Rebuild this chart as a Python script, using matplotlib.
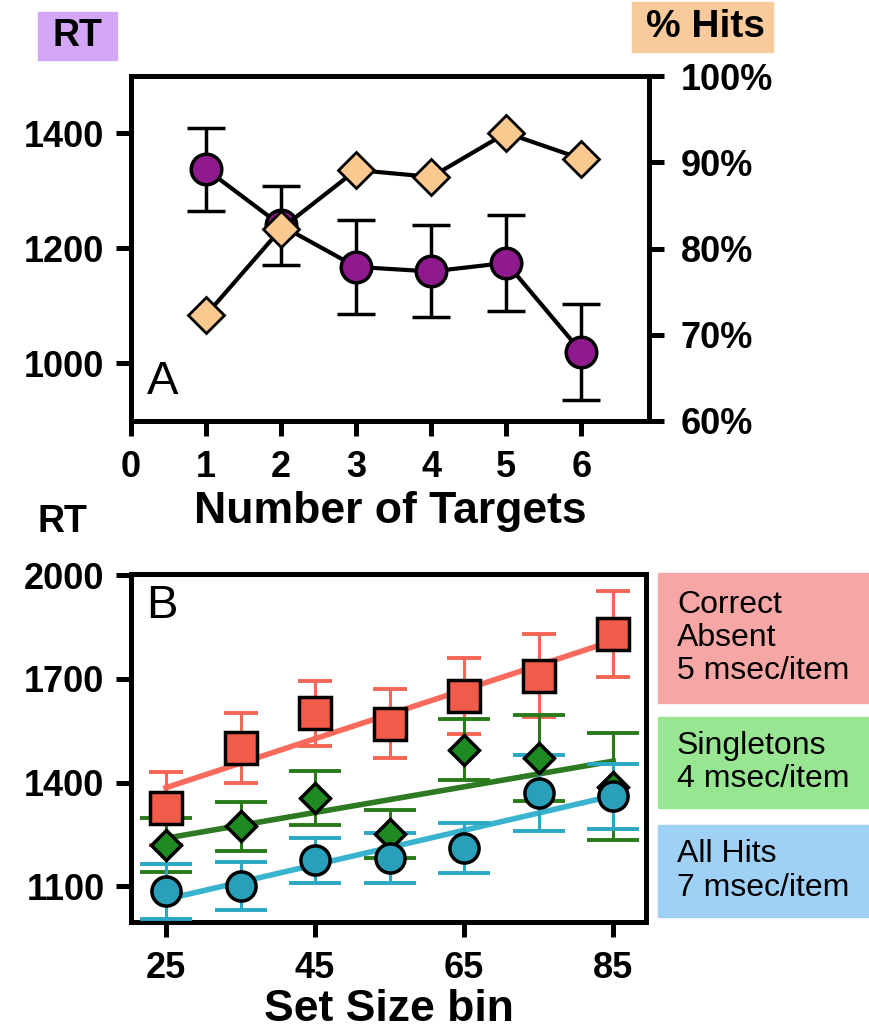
import matplotlib
matplotlib.use("Agg")
import matplotlib.pyplot as plt
from matplotlib.patches import Rectangle
import numpy as np

plt.rcParams['font.family'] = ['Liberation Sans', 'DejaVu Sans']

# Panel A: number of targets
n_targets = [1, 2, 3, 4, 5, 6]
rt_mean = [1338, 1240, 1168, 1160, 1175, 1020]
rt_err = [72, 68, 82, 80, 84, 83]
hits_pct = [72.3, 82.3, 89.1, 88.3, 93.4, 90.4]

# Panel B: set size bins
set_size = [25, 35, 45, 55, 65, 75, 85]
absent_rt = [1325, 1500, 1600, 1570, 1650, 1710, 1830]
absent_err = [105, 100, 95, 100, 110, 120, 125]
single_rt = [1220, 1273, 1355, 1250, 1495, 1472, 1388]
single_err = [78, 72, 78, 70, 88, 125, 155]
hits_rt = [1085, 1100, 1175, 1182, 1210, 1370, 1360]
hits_err = [80, 70, 65, 72, 73, 110, 95]

legend_labels = ["Correct\nAbsent\n5 msec/item",
                 "Singletons\n4 msec/item",
                 "All Hits\n7 msec/item"]

W, H = 869, 1029
fig = plt.figure(figsize=(W / 100, H / 100), dpi=100)


def fx(px):
    return px / W


def fy(py):
    return 1 - py / H


spine_w = 3.6
tick_fs = 26
label_fs = 32

# ---------- Panel A ----------
axA = fig.add_axes([fx(131), fy(421), fx(649) - fx(131), fy(76) - fy(421)])
axA.errorbar(n_targets, rt_mean, yerr=rt_err, color='black', lw=3,
             elinewidth=2.5, capsize=14, capthick=2.5, zorder=2,
             marker='o', ms=22, mfc='#8e1a8e', mec='black', mew=2.5)
axA.set_xlim(0, 6.9)
axA.set_ylim(900, 1500)
axA.set_xticks(range(7))
axA.set_yticks([1000, 1200, 1400])
axA.tick_params(direction='out', length=11, width=spine_w, labelsize=tick_fs, pad=8)
axA.tick_params(axis='x', pad=10)
for s in axA.spines.values():
    s.set_linewidth(spine_w)
for lab in axA.get_xticklabels() + axA.get_yticklabels():
    lab.set_fontweight('bold')
axA.set_xlabel("Number of Targets", fontsize=label_fs, fontweight='bold', labelpad=4)
axA.text(0.03, 0.05, "A", transform=axA.transAxes, fontsize=34, ha='left', va='bottom')

axA2 = axA.twinx()
axA2.plot(n_targets, hits_pct, color='black', lw=3, marker='D', ms=18,
          mfc='#f9c98f', mec='black', mew=2)
axA2.set_ylim(60, 100)
axA2.set_yticks([60, 70, 80, 90, 100])
axA2.set_yticklabels([f"{v}%" for v in [60, 70, 80, 90, 100]])
axA2.tick_params(direction='out', length=11, width=spine_w, labelsize=tick_fs, pad=12)
for s in axA2.spines.values():
    s.set_linewidth(spine_w)
for lab in axA2.get_yticklabels():
    lab.set_fontweight('bold')

# header boxes
fig.patches.append(Rectangle((fx(38), fy(60)), fx(117) - fx(38), fy(12) - fy(60),
                             transform=fig.transFigure, color='#d4a6f6', zorder=0))
fig.text(fx(77), fy(36), "RT", fontsize=27, fontweight='bold', ha='center', va='center')
fig.patches.append(Rectangle((fx(632), fy(52)), fx(773) - fx(632), fy(2) - fy(52),
                             transform=fig.transFigure, color='#f9ca9c', zorder=0))
fig.text(fx(705), fy(27), "% Hits", fontsize=28, fontweight='bold', ha='center', va='center')

# ---------- Panel B ----------
axB = fig.add_axes([fx(131), fy(922), fx(646) - fx(131), fy(574) - fy(922)])
series = [
    (absent_rt, absent_err, 's', 23, '#f25a4a', '#f46656', '#f86a5c', 12),
    (single_rt, single_err, 'D', 15, '#1f8a22', '#2a7a1a', '#2d7a23', 19),
    (hits_rt, hits_err, 'o', 21, '#2a9fba', '#2aa8c4', '#3ab3cf', 19),
]
x = np.array(set_size)
for vals, err, mk, ms, fill, ecol, lcol, cap in series:
    slope, icpt = np.polyfit(x, vals, 1)
    axB.plot([25, 85], [icpt + slope * 25, icpt + slope * 85], color=lcol, lw=4, zorder=2)
    axB.errorbar(x, vals, yerr=err, fmt='none', ecolor=ecol, elinewidth=2.2,
                 capsize=cap, capthick=2.8, zorder=3)
    axB.plot(x, vals, ls='none', marker=mk, ms=ms, mfc=fill, mec='black', mew=2.5, zorder=4)

axB.set_xlim(20.3, 89.4)
axB.set_ylim(996, 2004)
axB.set_xticks([25, 45, 65, 85])
axB.set_yticks([1100, 1400, 1700, 2000])
axB.tick_params(direction='out', length=11, width=spine_w, labelsize=tick_fs, pad=8)
axB.tick_params(axis='x', pad=10)
for s in axB.spines.values():
    s.set_linewidth(spine_w)
for lab in axB.get_xticklabels() + axB.get_yticklabels():
    lab.set_fontweight('bold')
axB.set_xlabel("Set Size bin", fontsize=label_fs, fontweight='bold', labelpad=2)
axB.text(0.03, 0.97, "B", transform=axB.transAxes, fontsize=34, ha='left', va='top')
fig.text(fx(62), fy(522), "RT", fontsize=27, fontweight='bold', ha='center', va='center')

# legend boxes on the right
boxes = [(573, 703, '#f7a6a6'), (717, 808, '#98e592'), (825, 917, '#9fd0f5')]
for (top, bot, col), txt in zip(boxes, legend_labels):
    fig.patches.append(Rectangle((fx(658), fy(bot)), 1 - fx(658), fy(top) - fy(bot),
                                 transform=fig.transFigure, color=col, zorder=0))
    fig.text(fx(677), fy((top + bot) / 2), txt, fontsize=23, ha='left', va='center',
             linespacing=1.15)

fig.savefig("out.png", dpi=100)
